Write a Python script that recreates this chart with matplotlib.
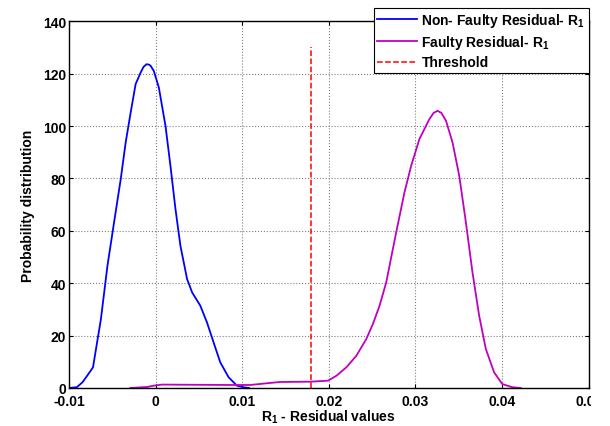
import numpy as np
import matplotlib
matplotlib.use("Agg")
import matplotlib.pyplot as plt
from matplotlib.patches import Rectangle

# Non-faulty residual R1 (probability distribution)
r1_ok_x = [-0.0100, -0.00909, -0.00843, -0.00776, -0.00722, -0.00672, -0.00632,
           -0.00555, -0.00479, -0.00402, -0.00345, -0.00287, -0.00230, -0.00172,
           -0.00138, -0.00103, -0.00075, -0.00057, -0.00020, 0.00038, 0.00115,
           0.00172, 0.00230, 0.00287, 0.00364, 0.00422, 0.00517, 0.00594,
           0.00670, 0.00747, 0.00843, 0.00939, 0.01010, 0.01080]
r1_ok_y = [0, 0.3, 2.2, 5.3, 7.9, 18, 26, 46.7, 63.2, 79.7, 93.7, 105.2, 116,
           120.4, 122.6, 123.6, 123.4, 123, 121, 114.7, 100, 84.8, 68.3, 54.3,
           41.6, 36.5, 31.4, 25, 17.4, 9.8, 4.1, 0.9, 0.3, 0]

# Faulty residual R1
r1_f_x = [-0.00292, -0.00095, -0.00020, 0.00077, 0.00862, 0.01092, 0.01284,
          0.01437, 0.01782, 0.01992, 0.02089, 0.02203, 0.02318, 0.02433,
          0.02509, 0.02586, 0.02663, 0.02778, 0.02874, 0.02951, 0.03046,
          0.03161, 0.03210, 0.03256, 0.03300, 0.03353, 0.03429, 0.03506,
          0.03583, 0.03659, 0.03736, 0.03813, 0.03908, 0.04003, 0.04118,
          0.04215]
r1_f_y = [0, 0.4, 0.9, 1.3, 1.15, 1.15, 1.8, 2.3, 2.4, 2.8, 4.7, 7.9, 12.3,
          18.7, 24.4, 31.4, 40.3, 59.4, 74.7, 84.8, 95, 102.6, 105, 105.8,
          105, 102, 93.7, 81, 63.2, 44.1, 27.6, 14.9, 6, 1.5, 0.3, 0]

threshold = 0.018
threshold_y = [0, 130]

plt.rcParams['font.family'] = ['Liberation Sans', 'DejaVu Sans']
plt.rcParams['font.weight'] = 'bold'
plt.rcParams['font.size'] = 10
plt.rcParams['mathtext.fontset'] = 'custom'
plt.rcParams['mathtext.rm'] = 'Liberation Sans:bold'
plt.rcParams['mathtext.it'] = 'Liberation Sans:bold'
plt.rcParams['mathtext.bf'] = 'Liberation Sans:bold'

fig = plt.figure(figsize=(6.1, 4.27), dpi=100)
ax = fig.add_axes([0.113, 0.089, 0.852, 0.859])

ax.plot(r1_ok_x, r1_ok_y, color='#0000ff', lw=1.3, label=r'Non- Faulty Residual- R$_1$')
ax.plot(r1_f_x, r1_f_y, color='#c000c0', lw=1.3, label=r'Faulty Residual- R$_1$')
ax.plot([threshold, threshold], threshold_y, color='red', ls='--', lw=1.1, label='Threshold')

ax.set_xlim(-0.01, 0.05)
ax.set_ylim(0, 140)
ax.set_xticks([-0.01, 0, 0.01, 0.02, 0.03, 0.04, 0.05])
ax.set_xticklabels(['-0.01', '0', '0.01', '0.02', '0.03', '0.04', '0.05'])
ax.set_yticks(np.arange(0, 141, 20))
ax.grid(True, color='0.5', ls=':', lw=0.8)
ax.tick_params(direction='in', top=True, right=True, length=3, width=0.8, pad=2)
ax.tick_params(axis='x', pad=4)
for s in ax.spines.values():
    s.set_linewidth(1.0)

ax.set_xlabel(r'R$_1$ - Residual values', fontweight='bold', labelpad=0)
ax.set_ylabel('Probability distribution', fontweight='bold', labelpad=6)

leg = ax.legend(loc='upper right', bbox_to_anchor=(1.0, 1.037), fancybox=False,
                framealpha=1, edgecolor='black', handlelength=2.9,
                borderpad=0.25, labelspacing=0.3, handletextpad=0.3,
                borderaxespad=0)
leg.get_frame().set_linewidth(0.8)

# the original picture is cut off just right of the axes
fig.add_artist(Rectangle((591 / 610, 0), 1, 1, transform=fig.transFigure,
                         facecolor='white', edgecolor='none', zorder=10))

fig.savefig('out.png', dpi=100)
